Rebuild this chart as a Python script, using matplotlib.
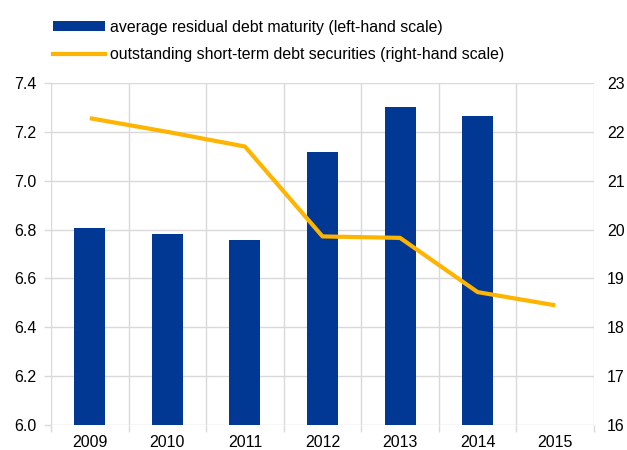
import numpy as np
import matplotlib
matplotlib.use("Agg")
import matplotlib.pyplot as plt
from matplotlib.patches import Patch
from matplotlib.lines import Line2D

plt.rcParams['font.family'] = ['Liberation Sans', 'DejaVu Sans']

# Daten
years = ['2009', '2010', '2011', '2012', '2013', '2014', '2015']
maturity = [6.805, 6.781, 6.759, 7.118, 7.302, 7.265, np.nan]
short_term = [22.28, 22.0, 21.70, 19.86, 19.83, 18.72, 18.45]

blue = '#003894'
yellow = '#FFB400'
grid_col = '#d9d9d9'

fig = plt.figure(figsize=(6.27, 4.5), dpi=100)
ax = fig.add_axes([51 / 627, 1 - 425 / 450, (594 - 51) / 627, (425 - 83) / 450])
ax2 = ax.twinx()

x = np.arange(len(years))
ax.bar(x, maturity, width=0.4, color=blue, zorder=2)
ax2.plot(x, short_term, color=yellow, linewidth=3, solid_capstyle='butt', zorder=3)

ax.set_xlim(-0.5, len(years) - 0.5)
ax.set_ylim(6.0, 7.4)
ax.set_yticks(np.arange(6.0, 7.41, 0.2))
ax.set_yticklabels([f'{v:.1f}' for v in np.arange(6.0, 7.41, 0.2)])
ax2.set_ylim(16, 23)
ax2.set_yticks(range(16, 24))

ax.set_xticks(x)
ax.set_xticklabels(years)
ax.set_xticks(np.arange(-0.5, len(years)), minor=True)

ax.set_axisbelow(True)
ax.grid(True, which='minor', axis='x', color=grid_col, linewidth=1)
ax.grid(True, which='major', axis='y', color=grid_col, linewidth=1)

for a in (ax, ax2):
    for s in a.spines.values():
        s.set_visible(False)

ax.tick_params(axis='x', which='major', length=0, pad=7.5, labelsize=11.5, colors='#000000')
ax.tick_params(axis='x', which='minor', length=5, color=grid_col, width=1)
ax.tick_params(axis='y', length=5, color=grid_col, width=1, pad=5.5, labelsize=11.5)
ax2.tick_params(axis='y', length=0, pad=9.5, labelsize=11.5)

handles = [Patch(facecolor=blue, edgecolor='none'),
           Line2D([0], [0], color=yellow, linewidth=3)]
labels = ['average residual debt maturity (left-hand scale)',
          'outstanding short-term debt securities (right-hand scale)']
fig.legend(handles, labels, loc='upper left', bbox_to_anchor=(53 / 627, 1 - 20 / 450),
           frameon=False, fontsize=11.4, handlelength=3.3, handleheight=0.6,
           handletextpad=0.3, labelspacing=0.75, borderpad=0, borderaxespad=0)

fig.savefig('out.png', dpi=100)
